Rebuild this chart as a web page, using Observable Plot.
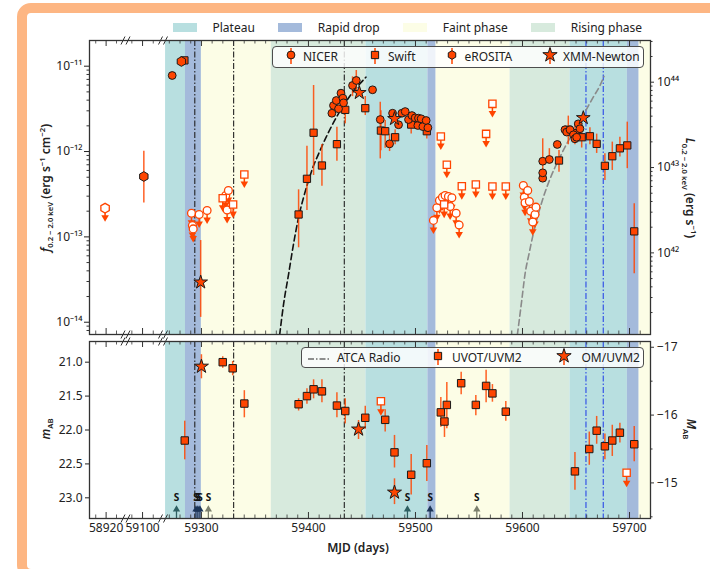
<!DOCTYPE html>
<html>
<head>
<meta charset="utf-8">
<script src="https://cdn.jsdelivr.net/npm/d3@7"></script>
<script src="https://cdn.jsdelivr.net/npm/@observablehq/plot@0.6"></script>
<style>
  html, body { margin: 0; padding: 0; }
  body { width: 710px; height: 569px; position: relative; overflow: hidden; background: #fff;
         font-family: "Noto Sans", sans-serif; color: #222; }
  #frame { position: absolute; left: 17px; top: 3px; width: 740px; height: 576px; box-sizing: border-box;
           border: 10px solid #fdb683; border-radius: 14px; background: #fff; }
  .layer { position: absolute; left: 0; }
  .lbl { position: absolute; white-space: nowrap; font-size: 12px; font-weight: 600; }
  .lbl sub, .lbl sup { font-size: 64%; line-height: 0; }
  .rotl { transform: translate(-50%, -50%) rotate(-90deg); }
  .rotr { transform: translate(-50%, -50%) rotate(90deg); }
  .ctr { transform: translate(-50%, -50%); }
  #phases { position: absolute; left: 173px; top: 19px; height: 17px; display: flex; align-items: center; font-size: 12px; }
  #phases .item { display: flex; align-items: center; margin-right: 23.5px; }
  #phases .sw { width: 24px; height: 9px; margin-right: 15.5px; }
  .legend { position: absolute; box-sizing: border-box; border: 1px solid #4d4d4d; border-radius: 4px;
            background: rgba(255,255,255,0.82); font-size: 12px; }
  .legend > * { position: absolute; top: 50%; transform: translateY(-50%); line-height: 1; }
</style>
</head>
<body>
<div id="frame"></div>
<div id="topChart" class="layer" style="top:0"></div>
<div id="bottomChart" class="layer" style="top:338px"></div>
<div id="phases"></div>
<div id="xrayLegend" class="legend" style="left:272px; top:46px; width:372px; height:22px"></div>
<div id="uvLegend" class="legend" style="left:301px; top:347px; width:343px; height:21px"></div>
<div class="lbl rotl" style="left:45px; top:188px"><i>f</i><sub>0.2 − 2.0 keV</sub> (erg s<sup>−1</sup> cm<sup>−2</sup>)</div>
<div class="lbl rotr" style="left:690px; top:188px"><i>L</i><sub>0.2 − 2.0 keV</sub> (erg s<sup>−1</sup>)</div>
<div class="lbl rotl" style="left:45px; top:429px"><i>m</i><sub>AB</sub></div>
<div class="lbl rotr" style="left:691px; top:429px"><i>M</i><sub>AB</sub></div>
<div class="lbl ctr" style="left:358px; top:547px">MJD (days)</div>
<script>
// ---------- phases ----------
const phaseNames = ["Plateau", "Rapid drop", "Faint phase", "Rising phase"];
const phaseColors = ["#b8dfe0", "#a4badb", "#fcfde6", "#d7eadd"];
// [start MJD, end MJD, phase index]
const phaseSpans = [
  [59266.5, 59285.1, 0], [59285.1, 59300.0, 1], [59300.0, 59365.3, 2], [59365.3, 59453.7, 3],
  [59453.7, 59511.6, 0], [59511.6, 59519.3, 1], [59519.3, 59588.4, 2], [59588.4, 59644.4, 3],
  [59644.4, 59698.0, 0], [59698.0, 59709.0, 1], [59709.0, 59719.6, 2]
];

// ---------- radio epochs (ATCA) ----------
const radioBlack = [59293.8, 59330.1, 59433.5];
const radioBlue = [59659.3, 59675.5];

// ---------- X-ray 0.2-2.0 keV flux: [MJD, flux, low, high] ----------
const nicerDet = [
  [59272.7, 7.78e-12], [59421.9, 2.81e-12], [59423.4, 3.46e-12], [59426.0, 3.96e-12],
  [59428.1, 3.17e-12], [59430.4, 4.83e-12], [59432.2, 4.22e-12], [59432.8, 3.72e-12],
  [59441.2, 5.94e-12, 4.4e-12, 7.5e-12], [59444.7, 6.80e-12, 5.0e-12, 8.9e-12],
  [59459.9, 5.29e-12], [59467.1, 2.37e-12, 8.2e-13, 3.78e-12], [59475.8, 1.23e-12, 1.0e-12, 1.6e-12],
  [59478.6, 2.81e-12], [59484.2, 2.06e-12], [59487.3, 2.81e-12], [59490.4, 2.94e-12],
  [59493.5, 2.37e-12], [59496.7, 2.64e-12], [59499.7, 2.48e-12], [59502.2, 2.02e-12],
  [59502.8, 2.46e-12], [59505.3, 2.42e-12], [59506.9, 1.96e-12], [59510.0, 2.31e-12],
  [59511.6, 1.90e-12],
  [59618.9, 4.87e-13], [59618.9, 5.63e-13], [59618.9, 7.70e-13, 5.7e-13, 1.41e-12],
  [59625.1, 8.07e-13, 7.3e-13, 1.08e-12], [59632.5, 1.21e-12], [59639.7, 1.80e-12],
  [59641.3, 1.69e-12], [59644.4, 1.80e-12], [59647.6, 1.57e-12], [59649.0, 1.41e-12],
  [59650.6, 1.47e-12], [59652.1, 2.11e-12], [59653.7, 1.85e-12]
];
const nicerUL = [
  [59290.7, 1.89e-13], [59291.6, 1.36e-13], [59292.3, 1.24e-13], [59297.9, 1.83e-13],
  [59305.3, 2.04e-13], [59322.7, 3.05e-13], [59324.0, 2.07e-13], [59325.2, 3.49e-13],
  [59516.8, 1.56e-13], [59520.0, 2.19e-13], [59522.4, 2.67e-13], [59525.2, 2.92e-13],
  [59527.7, 3.05e-13], [59530.8, 2.97e-13], [59532.4, 2.27e-13], [59534.0, 2.87e-13],
  [59538.0, 1.89e-13], [59540.8, 1.38e-13],
  [59600.8, 4.00e-13], [59601.7, 2.92e-13], [59602.4, 2.51e-13], [59604.9, 3.49e-13],
  [59606.4, 2.60e-13], [59607.7, 2.00e-13], [59609.6, 1.49e-13], [59611.7, 1.83e-13],
  [59612.6, 2.23e-13]
];
const swiftDet = [
  [59284.1, 1.17e-11],
  [59390.8, 1.83e-13, 7.45e-14, 3.56e-13], [59398.6, 4.79e-13, 2.04e-13, 1.15e-12],
  [59404.8, 1.66e-12, 5.24e-13, 5.94e-12], [59412.6, 6.86e-13, 3.92e-13, 1.21e-12],
  [59426.6, 1.22e-12, 7.7e-13, 1.93e-12], [59434.4, 3.08e-12, 2.11e-12, 4.15e-12],
  [59453.1, 3.22e-12, 2.64e-12, 4.41e-12], [59467.7, 1.76e-12, 1.02e-12, 3.0e-12],
  [59471.7, 1.73e-12, 1.09e-12, 2.31e-12], [59481.0, 1.47e-12, 1.2e-12, 1.8e-12],
  [59496.0, 2.07e-12, 1.6e-12, 2.6e-12], [59510.6, 1.73e-12, 1.4e-12, 2.1e-12],
  [59634.1, 7.85e-13, 5.73e-13, 1.03e-12], [59642.8, 1.80e-12, 1.2e-12, 2.6e-12],
  [59649.0, 1.64e-12, 1.2e-12, 2.2e-12], [59655.3, 1.47e-12, 1.1e-12, 2.0e-12],
  [59663.0, 1.51e-12, 1.2e-12, 1.9e-12], [59669.3, 1.23e-12, 9.5e-13, 1.6e-12],
  [59677.0, 6.80e-13, 4.57e-13, 9.4e-13], [59683.9, 8.81e-13, 6.0e-13, 1.29e-12],
  [59691.0, 1.09e-12, 8.6e-13, 1.47e-12], [59697.9, 1.18e-12, 6.3e-13, 2.21e-12],
  [59704.4, 1.16e-13, 3.69e-14, 2.44e-13]
];
const swiftUL = [
  [59319.9, 2.84e-13], [59329.6, 2.39e-13], [59340.1, 5.38e-13],
  [59523.7, 1.50e-12], [59526.8, 2.39e-13], [59529.3, 6.99e-13], [59543.3, 3.92e-13],
  [59556.4, 4.11e-13], [59566.0, 1.61e-12], [59571.9, 3.62e-12], [59571.9, 3.89e-13],
  [59584.4, 3.89e-13]
];
const erositaDet = [[59101.2, 5.1e-13, 2.5e-13, 1.01e-12], [59281.3, 1.135e-11]];
const erositaUL = [[58919.0, 2.17e-13]];
const xmmDet = [
  [59299.3, 2.94e-14, 1.14e-14, 9.06e-14], [59447.5, 4.88e-12], [59480.4, 2.42e-12], [59656.8, 2.48e-12]
];

// power-law rise fits: [MJD, flux]
const riseFit1 = [
  [59373.1, 7.11e-15], [59376.8, 1.64e-14], [59381.5, 3.69e-14], [59386.1, 8.30e-14],
  [59390.8, 1.70e-13], [59395.5, 2.92e-13], [59400.1, 4.57e-13], [59404.8, 6.86e-13],
  [59409.5, 9.40e-13], [59415.1, 1.35e-12], [59420.4, 1.85e-12], [59426.6, 2.58e-12],
  [59432.8, 3.46e-12], [59439.1, 4.54e-12], [59445.3, 5.67e-12], [59453.7, 7.43e-12]
];
const riseFit2 = [
  [59595.2, 7.11e-15], [59599.3, 1.80e-14], [59602.4, 3.69e-14], [59606.1, 6.33e-14],
  [59610.1, 1.09e-13], [59614.8, 1.86e-13], [59619.5, 2.92e-13], [59625.1, 4.57e-13],
  [59630.4, 6.55e-13], [59635.7, 8.97e-13], [59641.3, 1.23e-12], [59647.6, 1.69e-12],
  [59653.7, 2.31e-12], [59660.0, 3.17e-12], [59666.1, 4.33e-12], [59672.4, 5.94e-12],
  [59676.1, 7.57e-12]
];

// ---------- UV (UVM2) AB magnitudes: [MJD, mag, bright end, faint end] ----------
const uvotDet = [
  [59284.4, 22.155, 21.87, 22.44], [59319.9, 21.00, 20.92, 21.09], [59329.2, 21.09, 20.99, 21.20],
  [59340.1, 21.61, 21.42, 21.82], [59390.8, 21.62, 21.54, 21.72], [59398.6, 21.50, 21.39, 21.62],
  [59404.8, 21.40, 21.26, 21.54], [59412.6, 21.43, 21.26, 21.60], [59426.6, 21.64, 21.45, 21.82],
  [59434.4, 21.72, 21.54, 21.91], [59453.1, 21.82, 21.65, 21.99], [59471.7, 21.85, 21.70, 22.03],
  [59480.4, 22.33, 22.08, 22.56], [59496.0, 22.66, 22.36, 22.96], [59510.6, 22.49, 22.23, 22.76],
  [59523.7, 21.74, 21.52, 21.96], [59527.1, 21.875, 21.65, 22.11], [59529.3, 21.63, 21.30, 21.98],
  [59542.7, 21.31, 21.15, 21.48], [59556.4, 21.63, 21.49, 21.79], [59566.0, 21.35, 21.12, 21.60],
  [59571.9, 21.46, 21.33, 21.59], [59584.4, 21.73, 21.58, 21.87], [59649.0, 22.61, 22.33, 22.89],
  [59662.4, 22.28, 22.03, 22.52], [59669.3, 22.01, 21.80, 22.21], [59677.0, 22.24, 22.06, 22.44],
  [59683.9, 22.155, 21.93, 22.39], [59691.0, 22.04, 21.90, 22.19], [59704.4, 22.21, 21.95, 22.47]
];
const uvotUL = [[59467.7, 21.575], [59697.3, 22.63]];
const omDet = [[59300.0, 21.063, 20.89, 21.245], [59446.8, 21.99, 21.86, 22.14], [59480.4, 22.92, 22.72, 23.10]];

// spectral epochs marked "S": [MJD, instrument group]
const specEpochs = [
  [59276.7, 0], [59294.9, 1], [59296.7, 1], [59298.6, 1], [59306.5, 2],
  [59492.5, 0], [59513.7, 1], [59557.3, 2]
];
const specColors = ["#2e5f62", "#1c3458", "#7b7f6d"];

// ---------- axes ----------
const xMajorTicks = [58920, 59100, 59300, 59400, 59500, 59600, 59700];
const xMinorTicks = [58910, 58930, 59090, 59110, ...d3.range(59270, 59720, 10).filter(t => t % 100 !== 0)];
const fluxTicks = [1e-14, 1e-13, 1e-12, 1e-11];
const lumTicks = [1e42, 1e43, 1e44];
const magTicks = [21.0, 21.5, 22.0, 22.5, 23.0];
const absMagTicks = [-17, -16, -15];
const absMagMinor = [-16.5, -15.5, -14.5];
const lumFactor = 1.54e55;   // 4 pi d^2 (cm^2)
const distMod = 37.78;       // distance modulus
const axisBreaks = [59011, 59191.6];

// broken time axis: three windows joined into one piecewise linear scale
const xDomain = [58904, 58937.7, 59085, 59117.7, 59265.5, 59719.6];
const xRange = [89, 124, 126, 161, 164, 650];

const accent = "#ff4500";
const edge = "#1a1a1a";
const ink = "#222";
const X = d => d[0], Y = d => d[1];
const withErr = arr => arr.filter(d => d.length > 2);

const supMap = {"-": "⁻", "0": "⁰", "1": "¹", "2": "²", "3": "³", "4": "⁴", "5": "⁵", "6": "⁶", "7": "⁷", "8": "⁸", "9": "⁹"};
const pow10 = e => "10" + String(e).split("").map(c => supMap[c]).join("");

const breakSymbol = {
  draw(ctx) { ctx.moveTo(-4.5, 4); ctx.lineTo(-0.5, -4); ctx.moveTo(0.5, 4); ctx.lineTo(4.5, -4); }
};

function commonMarks() {
  return [
    Plot.rect(phaseSpans, {x1: d => d[0], x2: d => d[1], fill: d => phaseColors[d[2]]}),
    Plot.ruleX(radioBlack, {x: d => d, stroke: "#222", strokeWidth: 1.1, strokeDasharray: "6,2,1.5,2"}),
    Plot.ruleX(radioBlue, {x: d => d, stroke: "#3f5fe6", strokeWidth: 1.3, strokeDasharray: "6,2,1.5,2"})
  ];
}
function frameMarks(H) {
  return [
    Plot.frame({stroke: "#333", strokeWidth: 1.3}),
    Plot.ruleX(xMajorTicks, {x: d => d, insetTop: H - 6, stroke: "#333"}),
    Plot.ruleX(xMajorTicks, {x: d => d, insetBottom: H - 6, stroke: "#333"}),
    Plot.ruleX(xMinorTicks, {x: d => d, insetTop: H - 3.5, stroke: "#333", strokeWidth: 0.8}),
    Plot.ruleX(xMinorTicks, {x: d => d, insetBottom: H - 3.5, stroke: "#333", strokeWidth: 0.8}),
    Plot.dot(axisBreaks, {x: d => d, frameAnchor: "top", symbol: breakSymbol, stroke: "#333", strokeWidth: 1, r: 4}),
    Plot.dot(axisBreaks, {x: d => d, frameAnchor: "bottom", symbol: breakSymbol, stroke: "#333", strokeWidth: 1, r: 4})
  ];
}
// outward ticks and labels on the right-hand spine (secondary unit)
function rightAxis(values, pos, label, len) {
  const marks = [Plot.ruleY(values, {y: pos, insetLeft: 561, insetRight: -len, stroke: "#333"})];
  if (label) marks.push(Plot.text(values, {y: pos, text: label, frameAnchor: "right", dx: len + 2.5, textAnchor: "start", fontSize: 12, fill: ink}));
  return marks;
}
const errorBars = arr => Plot.ruleX(withErr(arr), {x: X, y1: d => d[2], y2: d => d[3], stroke: accent, strokeWidth: 1.5, strokeOpacity: 0.85});
function limitArrows(arr, tip) {
  return [
    Plot.link(arr, {x1: X, x2: X, y1: Y, y2: tip, stroke: accent, strokeWidth: 1.5}),
    Plot.dot(arr, {x: X, y: tip, symbol: "triangle", rotate: 180, r: 2.8, fill: accent, stroke: "none"})
  ];
}
const style = {background: "transparent", fontFamily: "Noto Sans, sans-serif", fontSize: "12px", color: ink, overflow: "visible"};
const xScale = {type: "linear", domain: xDomain, range: xRange, clamp: false};

// ---------- X-ray panel ----------
const H1 = 294;
const fluxMinor = [];
for (let e = -15; e <= -11; e++) for (let k = 2; k <= 9; k++) { const v = k * 10 ** e; if (v > 7.18e-15 && v < 2e-11) fluxMinor.push(v); }
const lumMinor = [];
for (let e = 41; e <= 44; e++) for (let k = 2; k <= 9; k++) { const v = k * 10 ** e; if (v / lumFactor > 7.18e-15 && v / lumFactor < 2e-11) lumMinor.push(v); }

const topPlot = Plot.plot({
  width: 710, height: 338, marginLeft: 89, marginRight: 60, marginTop: 40, marginBottom: 4,
  style,
  color: {type: "identity"},
  x: {...xScale, axis: null},
  y: {type: "log", domain: [7.18e-15, 2.0e-11], range: [334, 40]},
  marks: [
    ...commonMarks(),
    Plot.line(riseFit1, {x: X, y: Y, stroke: "#111", strokeWidth: 1.6, strokeDasharray: "6,3.5", curve: "monotone-x", clip: true}),
    Plot.line(riseFit2, {x: X, y: Y, stroke: "#8a8a8a", strokeWidth: 1.6, strokeDasharray: "6,3.5", curve: "monotone-x", clip: true}),
    errorBars(nicerDet), errorBars(swiftDet), errorBars(erositaDet), errorBars(xmmDet),
    ...limitArrows(nicerUL, d => d[1] * 0.78),
    ...limitArrows(swiftUL, d => d[1] * 0.78),
    ...limitArrows(erositaUL, d => d[1] * 0.78),
    Plot.dot(nicerUL, {x: X, y: Y, r: 3.9, fill: "white", stroke: accent, strokeWidth: 1.3}),
    Plot.dot(erositaUL, {x: X, y: Y, symbol: "hexagon", r: 4.2, fill: "white", stroke: accent, strokeWidth: 1.3}),
    Plot.dot(swiftUL, {x: X, y: Y, symbol: "square", r: 4.1, fill: "white", stroke: accent, strokeWidth: 1.3}),
    Plot.dot(swiftDet, {x: X, y: Y, symbol: "square", r: 4.1, fill: accent, stroke: edge, strokeWidth: 1}),
    Plot.dot(nicerDet, {x: X, y: Y, r: 3.9, fill: accent, stroke: edge, strokeWidth: 1}),
    Plot.dot(erositaDet, {x: X, y: Y, symbol: "hexagon", r: 4.2, fill: accent, stroke: edge, strokeWidth: 1}),
    Plot.dot(xmmDet, {x: X, y: Y, symbol: "star", r: 4.3, fill: accent, stroke: edge, strokeWidth: 1}),
    ...frameMarks(H1),
    Plot.axisY({anchor: "left", ticks: fluxTicks, tickFormat: v => pow10(Math.round(Math.log10(v))), tickSize: 5, tickPadding: 2, fontSize: 12}),
    Plot.ruleY(fluxMinor, {y: d => d, insetLeft: -2.5, insetRight: 561, stroke: "#333"}),
    ...rightAxis(lumTicks, L => L / lumFactor, L => pow10(Math.round(Math.log10(L))), 4),
    ...rightAxis(lumMinor, L => L / lumFactor, null, 2.5)
  ]
});
document.getElementById("topChart").append(topPlot);

// ---------- UV panel ----------
const H2 = 177;
const bottomPlot = Plot.plot({
  width: 710, height: 231, marginLeft: 89, marginRight: 60, marginTop: 3, marginBottom: 51,
  style,
  color: {type: "identity"},
  x: xScale,
  y: {domain: [20.695, 23.305], range: [3, 180]},
  marks: [
    ...commonMarks(),
    errorBars(uvotDet), errorBars(omDet),
    ...limitArrows(uvotUL, d => d[1] + 0.15),
    Plot.dot(uvotUL, {x: X, y: Y, symbol: "square", r: 4.1, fill: "white", stroke: accent, strokeWidth: 1.3}),
    Plot.dot(uvotDet, {x: X, y: Y, symbol: "square", r: 4.2, fill: accent, stroke: edge, strokeWidth: 1}),
    Plot.dot(omDet, {x: X, y: Y, symbol: "star", r: 4.4, fill: accent, stroke: edge, strokeWidth: 1}),
    Plot.ruleX(specEpochs, {x: X, insetTop: H2 - 11, stroke: d => specColors[d[1]], strokeWidth: 1.3}),
    Plot.dot(specEpochs, {x: X, frameAnchor: "bottom", dy: -9, symbol: "triangle", r: 2.7, fill: d => specColors[d[1]]}),
    Plot.text(specEpochs, {x: X, text: () => "S", frameAnchor: "bottom", dy: -17.5, fontSize: 10, fontWeight: "bold", fill: "#111"}),
    ...frameMarks(H2),
    Plot.axisX({anchor: "bottom", ticks: xMajorTicks, tickFormat: d => String(d), tickSize: 0, tickPadding: 5, fontSize: 12}),
    Plot.axisY({anchor: "left", ticks: magTicks, tickFormat: d3.format(".1f"), tickSize: 4, tickPadding: 3, fontSize: 12}),
    ...rightAxis(absMagTicks, M => M + distMod, M => "−" + Math.abs(M), 4),
    ...rightAxis(absMagMinor, M => M + distMod, null, 2.5)
  ]
});
document.getElementById("bottomChart").append(bottomPlot);

// ---------- legends ----------
const phaseBox = document.getElementById("phases");
phaseNames.forEach((name, i) => {
  const item = document.createElement("div");
  item.className = "item";
  item.innerHTML = `<div class="sw" style="background:${phaseColors[i]}"></div><span>${name}</span>`;
  phaseBox.append(item);
});

function icon(kind, open) {
  const fill = open ? "white" : accent, stroke = open ? accent : edge;
  let shape;
  if (kind === "circle") shape = `<circle cx="8" cy="8" r="3.9" fill="${fill}" stroke="${stroke}"/>`;
  else if (kind === "hexagon") {
    const pts = d3.range(6).map(k => { const a = Math.PI / 3 * k + Math.PI / 6; return [8 + 4.3 * Math.cos(a), 8 + 4.3 * Math.sin(a)].join(","); }).join(" ");
    shape = `<polygon points="${pts}" fill="${fill}" stroke="${stroke}"/>`;
  } else {
    const sym = kind === "star" ? d3.symbolStar : d3.symbolSquare;
    const r = kind === "star" ? 4.5 : 4.1;
    shape = `<path transform="translate(8,8)" d="${d3.symbol(sym, Math.PI * r * r)()}" fill="${fill}" stroke="${stroke}"/>`;
  }
  return `<svg width="16" height="18" style="margin-left:-8px"><line x1="8" y1="1" x2="8" y2="17" stroke="${accent}" stroke-width="1.5"/>${shape}</svg>`;
}
function place(box, entries) {
  const el = document.getElementById(box);
  entries.forEach(([left, html]) => {
    const d = document.createElement("div");
    d.style.left = left + "px";
    d.innerHTML = html;
    el.append(d);
  });
}
const xrayLegendItems = [["circle", "NICER"], ["square", "Swift"], ["hexagon", "eROSITA"], ["star", "XMM-Newton"]];
const xrayIconPos = [17.5, 101.5, 178.5, 276.5];
const xrayTextPos = [30, 115, 191.5, 290];
place("xrayLegend", xrayLegendItems.flatMap(([k, t], i) => [[xrayIconPos[i], icon(k, false)], [xrayTextPos[i], t]]));

const uvLegendItems = [["line", "ATCA Radio"], ["square", "UVOT/UVM2"], ["star", "OM/UVM2"]];
const uvIconPos = [16, 136, 261.5];
const uvTextPos = [35, 150, 279.5];
place("uvLegend", uvLegendItems.flatMap(([k, t], i) => [[uvIconPos[i], k === "line"
  ? `<svg width="24" height="6" style="margin-left:-11px"><line x1="1" y1="3" x2="23" y2="3" stroke="#222" stroke-width="1.2" stroke-dasharray="6,2,1.5,2"/></svg>`
  : icon(k, false)], [uvTextPos[i], t]]));
</script>
</body>
</html>
